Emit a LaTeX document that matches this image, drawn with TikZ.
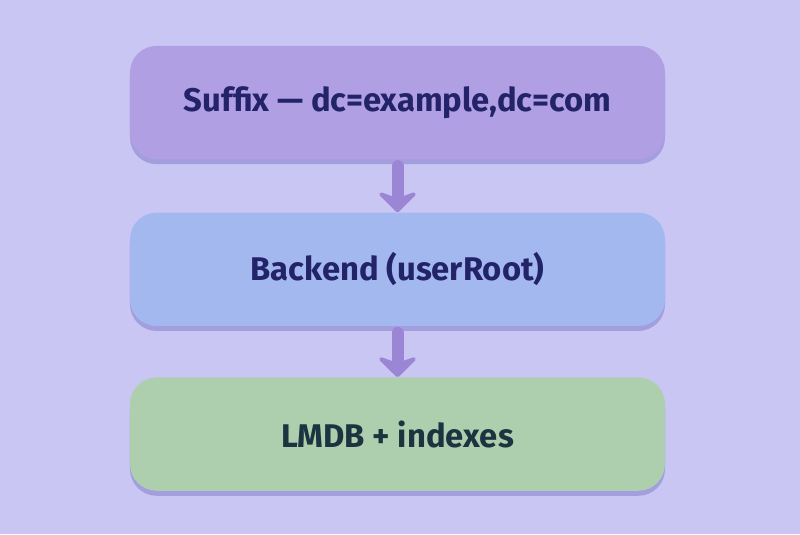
\documentclass[tikz,border=0pt]{standalone}
\usepackage{fontspec}
\setmainfont{Fira Sans}
\usetikzlibrary{positioning,arrows.meta,shadows}
\definecolor{bgcol}{HTML}{C9C6F3}
\definecolor{suffixcol}{HTML}{B19FE3}
\definecolor{backendcol}{HTML}{A3B8EE}
\definecolor{lmdbcol}{HTML}{ADCFAE}
\definecolor{inkcol}{HTML}{23236A}
\definecolor{greenink}{HTML}{1C3340}
\definecolor{arrowcol}{HTML}{9B86D6}
\definecolor{shadecol}{HTML}{9A94D8}
\begin{document}
\begin{tikzpicture}
		[x=0.3mm,y=-0.3mm,
		  layer/.style={shape=rectangle,rounded corners=8mm,minimum width=160.5mm,
		    minimum height=34mm,inner sep=0pt,text=inkcol,
		    drop shadow={shadow xshift=0mm,shadow yshift=-1.5mm,fill=shadecol,opacity=.8},
		    font=\fontsize{28}{32}\selectfont\bfseries},
		  flow/.style={line width=3.6mm,draw=arrowcol,line cap=round,
		    -{Stealth[length=7mm,width=14mm,inset=2.5mm,round]}}]
		\fill[bgcol] (0,0) rectangle (800,534);
		\useasboundingbox (0,0) rectangle (800,534);
		\node[layer,fill=suffixcol] (suffix) at (397.5,102.5) {Suffix — dc=example,dc=com};
		\node[layer,fill=backendcol,below=15.9mm of suffix] (backend) {Backend (userRoot)};
		\node[layer,fill=lmdbcol,text=greenink,below=15.3mm of backend] (lmdb) {LMDB + indexes};
		\draw[flow] ([yshift=-2mm]suffix.south) -- (backend.north);
		\draw[flow] ([yshift=-2mm]backend.south) -- (lmdb.north);
	\end{tikzpicture}
\end{document}
